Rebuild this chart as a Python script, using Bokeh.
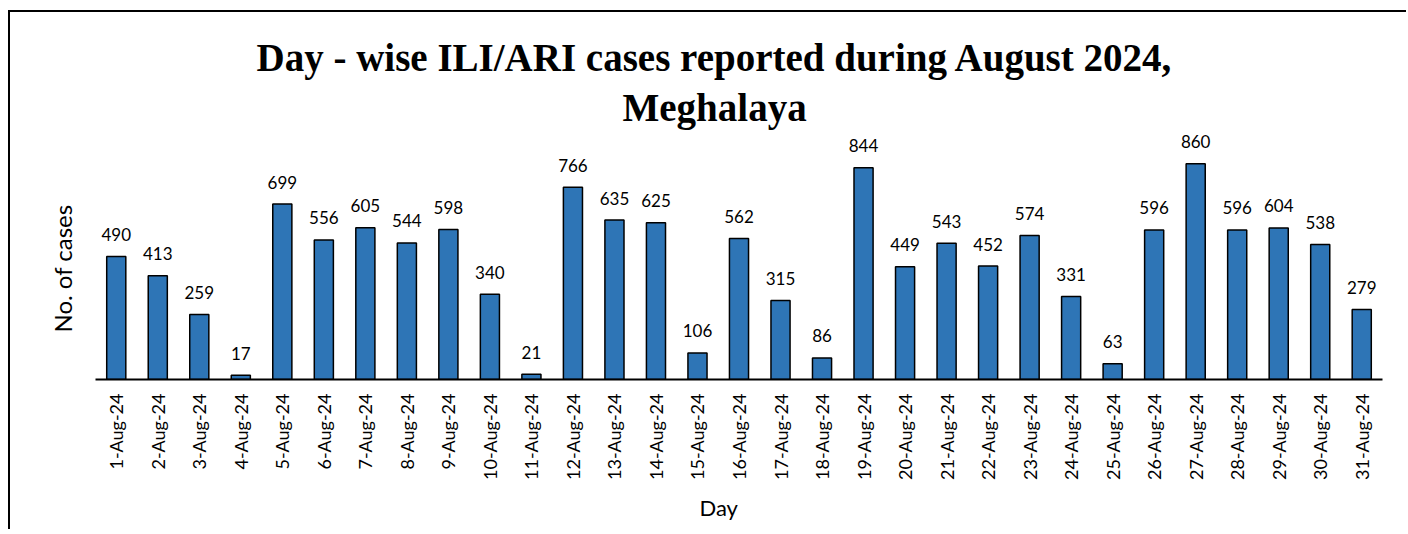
import math
from bokeh.plotting import figure
from bokeh.models import ColumnDataSource, LabelSet, Title, FactorRange, Range1d
from bokeh.core.properties import value
from bokeh.embed import file_html
from bokeh.resources import INLINE

days = [f"{d}-Aug-24" for d in range(1, 32)]
cases = [490, 413, 259, 17, 699, 556, 605, 544, 598, 340, 21, 766, 635, 625, 106,
         562, 315, 86, 844, 449, 543, 452, 574, 331, 63, 596, 860, 596, 604, 538, 279]
title_lines = ["Day - wise ILI/ARI cases reported during August 2024,", "Meghalaya"]
y_label = "No. of cases"
x_label = "Day"

SANS = "Lato"
SERIF = "Liberation Serif"

source = ColumnDataSource(dict(day=days, cases=cases, label=[str(c) for c in cases]))

p = figure(x_range=FactorRange(*days), y_range=Range1d(0, 1000),
           frame_width=1287, frame_height=251, title=None,
           min_border_left=85, min_border_top=116, min_border_right=24, min_border_bottom=150,
           output_backend="svg", toolbar_location=None,
           background_fill_color="white", border_fill_color="white")
p.styles = {"margin-left": "8px", "margin-top": "10px",
            "border-top": "2px solid black", "border-left": "2px solid black"}
p.outline_line_color = None
p.grid.visible = False
p.yaxis.visible = False

p.vbar(x="day", top="cases", width=0.46, source=source,
       fill_color="#2E75B6", line_color="black", line_width=1.5)

ax = p.xaxis[0]
ax.axis_line_color = "black"
ax.axis_line_width = 2
ax.major_tick_line_color = None
ax.minor_tick_line_color = None
ax.major_tick_out = 0
ax.major_label_orientation = math.pi / 2
ax.major_label_standoff = 14
ax.major_label_text_font = SANS
ax.major_label_text_font_size = "18px"
ax.major_label_text_color = "black"

labels = LabelSet(x="day", y="cases", text="label", source=source, y_offset=22,
                  text_align="center", text_baseline="middle",
                  text_font=value(SANS), text_font_size=value("17px"), text_color="black")
p.add_layout(labels)

# title: second line is nearest the frame
p.add_layout(Title(text=title_lines[1], align="left", offset=527, standoff=0,
                   text_font=SERIF, text_font_style="bold", text_font_size="39px",
                   text_color="black"), "above")
p.add_layout(Title(text=title_lines[0], align="left", offset=161, standoff=10,
                   text_font=SERIF, text_font_style="bold", text_font_size="39px",
                   text_color="black"), "above")

p.add_layout(Title(text=y_label, align="left", offset=47, standoff=38,
                   text_font=SANS, text_font_style="normal", text_font_size="24px",
                   text_color="black"), "left")
p.add_layout(Title(text=x_label, align="left", offset=604, standoff=18,
                   text_font=SANS, text_font_style="normal", text_font_size="22px",
                   text_color="black"), "below")

open("out.html", "w").write(file_html(p, INLINE))
